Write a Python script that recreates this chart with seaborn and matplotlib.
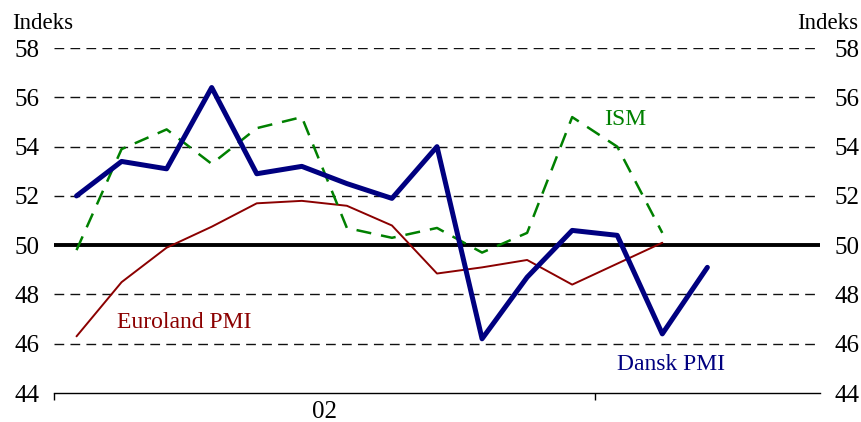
import matplotlib

matplotlib.use("Agg")

import numpy as np
import pandas as pd
import seaborn as sns
from matplotlib import pyplot as plt

# Monthly PMI readings, Jan 2002 onwards
dansk_pmi = [52.0, 53.4, 53.1, 56.4, 52.9, 53.2, 52.5, 51.9, 54.0, 46.2,
             48.7, 50.6, 50.4, 46.4, 49.1]
ism = [49.8, 53.9, 54.7, 53.3, 54.75, 55.2, 50.7, 50.3, 50.7, 49.7,
       50.5, 55.2, 54.0, 50.5]
euroland_pmi = [46.3, 48.5, 49.9, 50.75, 51.7, 51.8, 51.6, 50.8, 48.85,
                49.1, 49.4, 48.4, 49.25, 50.1]
y_ticks = [44, 46, 48, 50, 52, 54, 56, 58]
year_label = "02"

sns.set_style("white")
plt.rcParams["font.family"] = ["Liberation Serif", "DejaVu Serif"]
plt.rcParams["text.color"] = "black"
plt.rcParams["xtick.color"] = "black"
plt.rcParams["ytick.color"] = "black"

navy = "#000080"
darkred = "#8b0000"
green = "#008000"


def monthly(values):
    # centre each month between the year ticks
    return pd.DataFrame({"month": np.arange(len(values)) + 0.5, "value": values})


fig = plt.figure(figsize=(8.61, 4.22), dpi=100)
ax = fig.add_axes([0.0627, 0.0687, 0.8897, 0.8173])

# grid: dashed lines, solid 50-line
for v in y_ticks[1:]:
    if v == 50:
        ax.axhline(v, color="black", lw=2.8, zorder=1)
    else:
        ax.axhline(v, color="#111111", lw=1.0, dashes=(7, 4.5), zorder=1)

sns.lineplot(data=monthly(euroland_pmi), x="month", y="value", ax=ax,
             color=darkred, lw=1.4, zorder=3)
sns.lineplot(data=monthly(ism), x="month", y="value", ax=ax,
             color=green, lw=1.8, zorder=3).lines[-1].set_dashes((6, 4))
sns.lineplot(data=monthly(dansk_pmi), x="month", y="value", ax=ax,
             color=navy, lw=3.6, zorder=4)

ax.set_xlim(0, 17)
ax.set_ylim(44, 58)
ax.set_yticks(y_ticks)
ax.set_yticklabels([str(v) for v in y_ticks])
ax.set_xticks([0, 12])
ax.set_xticklabels([])
ax.set_xticks([6], minor=True)
ax.set_xticklabels([year_label], minor=True)
ax.tick_params(axis="x", which="major", bottom=True, direction="out",
               length=5, width=1, color="black")
ax.tick_params(axis="x", which="minor", bottom=True, length=0, pad=6,
               labelsize=18)
ax.tick_params(axis="y", length=0, labelsize=18, labelleft=True,
               labelright=True, pad=10.5)
ax.set_xlabel("")
ax.set_ylabel("")

for side in ["top", "left", "right"]:
    ax.spines[side].set_visible(False)
ax.spines["bottom"].set_color("black")
ax.spines["bottom"].set_linewidth(1.0)

ax.text(1.4, 46.85, "Euroland PMI", color=darkred, fontsize=17, va="center")
ax.text(12.2, 55.1, "ISM", color=green, fontsize=17, va="center")
ax.text(12.5, 45.15, "Dansk PMI", color=navy, fontsize=17, va="center")

fig.text(0.014, 0.945, "Indeks", fontsize=16.5, va="center", ha="left")
fig.text(0.997, 0.945, "Indeks", fontsize=16.5, va="center", ha="right")

fig.savefig("out.png", dpi=100)
